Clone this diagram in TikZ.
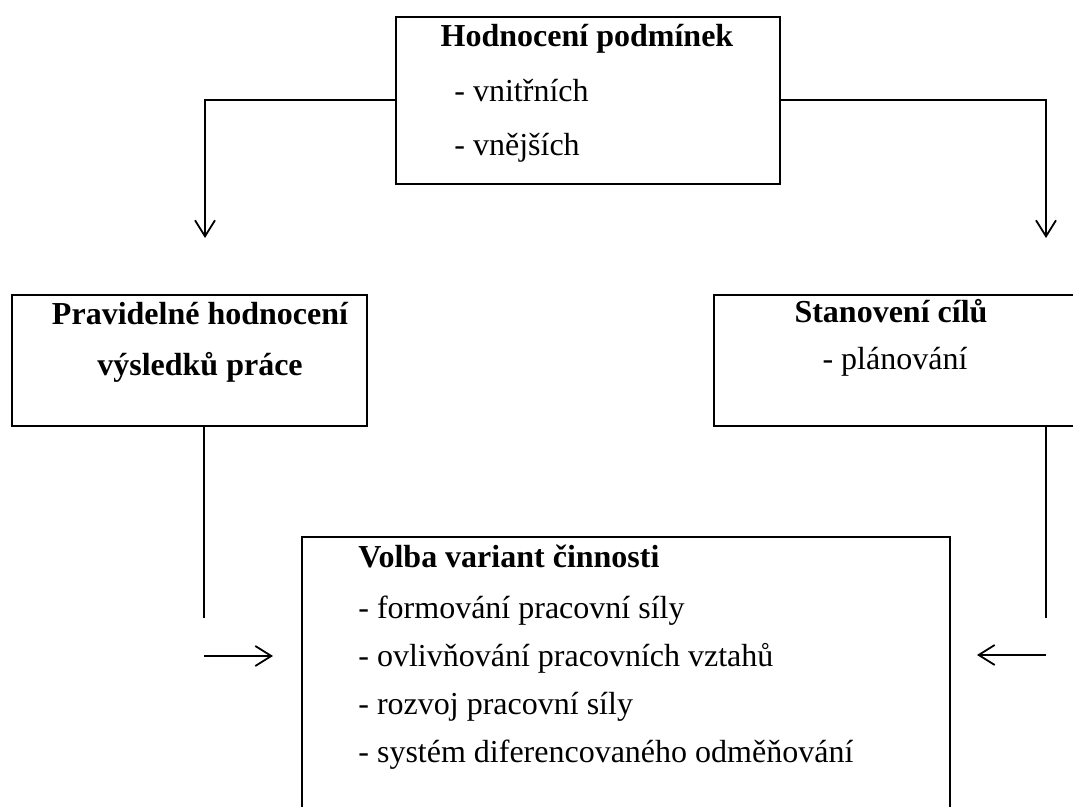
\documentclass[tikz,border=0pt]{standalone}
\usepackage{fontspec}
\setmainfont{Liberation Serif}
\usetikzlibrary{arrows.meta}

\tikzset{
  box/.style = {draw, line width=0.8pt, inner sep=0pt, anchor=north west},
  txt/.style = {inner sep=0pt, font=\fontsize{16}{19}\selectfont},
  hd/.style = {inner sep=0pt, font=\fontsize{16}{19}\selectfont\bfseries},
  arr/.style = {line width=0.9pt, -{Straight Barb[length=8pt,width=10pt]}},
  ln/.style = {line width=0.9pt}
}

\begin{document}
\begin{tikzpicture}[x=0.5pt, y=-0.5pt]
  \useasboundingbox (0,0) rectangle (1073,807);
  \clip (0,0) rectangle (1073,807);

  % boxes
  \node[box, minimum width=192pt, minimum height=83.5pt] (1) at (395,16) {};
  \node[box, minimum width=177.5pt, minimum height=65.5pt] (2) at (11,294) {};
  \node[box, minimum width=200pt, minimum height=65.5pt] (3) at (713,294) {};
  \node[box, minimum width=324pt, minimum height=157pt] (4) at (301,536) {};

  % texts
  \node[hd, anchor=base] (1a) at (587,47) {Hodnocení podmínek};
  \node[txt, anchor=base west] (1b) at (454,102) {- vnitřních};
  \node[txt, anchor=base west] (1c) at (454,156) {- vnějších};

  \node[hd, anchor=base] (2a) at (200,325) {Pravidelné hodnocení};
  \node[hd, anchor=base] (2b) at (200,376) {výsledků práce};

  \node[hd, anchor=base] (3a) at (891,323) {Stanovení cílů};
  \node[txt, anchor=base] (3b) at (895,370) {- plánování};

  \node[hd, anchor=base west] (4a) at (358,568) {Volba variant činnosti};
  \node[txt, anchor=base west] (4b) at (358,619) {- formování pracovní síly};
  \node[txt, anchor=base west] (4c) at (358,667) {- ovlivňování pracovních vztahů};
  \node[txt, anchor=base west] (4d) at (358,715) {- rozvoj pracovní síly};
  \node[txt, anchor=base west] (4e) at (358,763) {- systém diferencovaného odměňování};

  % free ends
  \coordinate (l1) at (205,238);
  \coordinate (r1) at (1046,238);
  \coordinate (l2) at (204,618);
  \coordinate (r2) at (1046,618);
  \coordinate (l3) at (204,656);
  \coordinate (l4) at (273,656);
  \coordinate (r3) at (1046,655);
  \coordinate (r4) at (977,655);

  \draw[arr] (1.west) -| (l1);
  \draw[arr] (1.east) -| (r1);
  \draw[ln] (2.south -| l2) -- (l2);
  \draw[ln] (3.south -| r2) -- (r2);
  \draw[arr] (l3) -- (l4);
  \draw[arr] (r3) -- (r4);
\end{tikzpicture}
\end{document}
